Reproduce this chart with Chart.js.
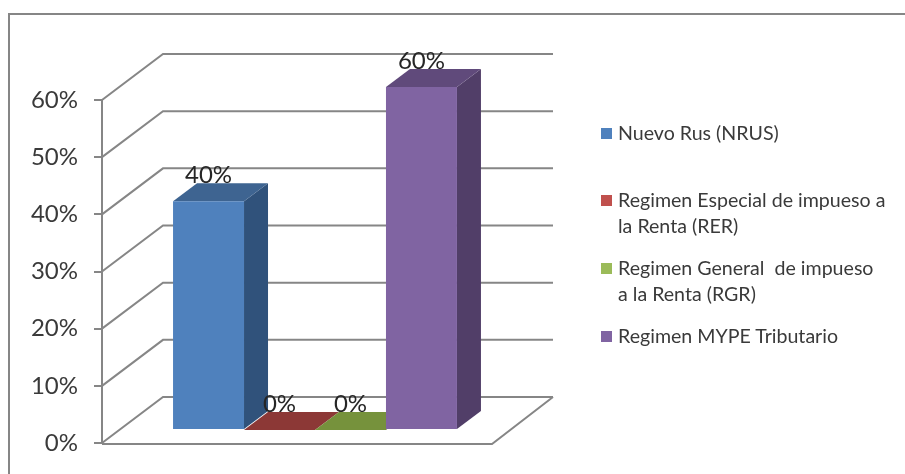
<!DOCTYPE html>
<html>
<head>
<meta charset="utf-8">
<script src="https://cdn.jsdelivr.net/npm/chart.js@4"></script>
<style>
    html, body { margin: 0; padding: 0; background: #fff; }
    #wrap { position: relative; width: 905px; height: 474px; overflow: hidden; }
    #frame { position: absolute; left: 8px; top: 13px; width: 1000px; height: 1000px; border: 2px solid #868686; }
    #chart { position: absolute; left: 0; top: 0; }
    .legend-item { position: absolute; left: 618px; width: 285px; font: 19.6px/26px Lato, sans-serif; color: #3a3a3a; white-space: pre-wrap; }
    .legend-item i { position: absolute; left: -17px; top: 8px; width: 11px; height: 11px; }
</style>
</head>
<body>
<div id="wrap">
    <div id="frame"></div>
    <canvas id="chart" width="905" height="474"></canvas>
    <div id="legend"></div>
</div>
<script>
const categories = [''];
const seriesNames = ['Nuevo Rus (NRUS)', 'Regimen Especial de impueso a\nla Renta (RER)', 'Regimen General  de impueso\na la Renta (RGR)', 'Regimen MYPE Tributario'];
const seriesValues = [40, 0, 0, 60];
const yTicks = [0, 10, 20, 30, 40, 50, 60];

const frontColors = ['#4f81bd', '#c0504d', '#9bbb59', '#8064a2'];
const topColors = ['#3e6491', '#8c3836', '#76923c', '#604a7b'];
const sideColors = ['#30527b', '#772c2a', '#5f7530', '#513e68'];
const legendTops = [120, 187, 255, 323];

// depth of the whole box, and how far into it the bars stand
const wallX = 61, wallY = -46;
const barX = 18, barY = -13;
const barDepthX = 24, barDepthY = -18;
const gridColor = '#868686';

const poly = (ctx, pts, fill) => {
    ctx.beginPath();
    pts.forEach((p, i) => i ? ctx.lineTo(p[0], p[1]) : ctx.moveTo(p[0], p[1]));
    ctx.closePath();
    ctx.fillStyle = fill;
    ctx.fill();
};

const box3d = {
    id: 'box3d',
    beforeDatasetsDraw(chart) {
        const { ctx, chartArea, scales: { y } } = chart;
        ctx.save();
        ctx.strokeStyle = gridColor;
        ctx.lineWidth = 2;
        yTicks.forEach(t => {
            const py = y.getPixelForValue(t);
            ctx.beginPath();
            ctx.moveTo(chartArea.left, py);
            ctx.lineTo(chartArea.left + wallX, py + wallY);
            ctx.lineTo(chartArea.right + wallX, py + wallY);
            ctx.stroke();
        });
        // floor
        const y0 = y.getPixelForValue(0);
        ctx.beginPath();
        ctx.moveTo(chartArea.left, y0 + 1);
        ctx.lineTo(chartArea.right, y0 + 1);
        ctx.lineTo(chartArea.right + wallX, y0 + wallY);
        ctx.stroke();

        // sides and tops of the bars, the fronts come from the library
        chart.data.datasets.forEach((ds, i) => {
            const bar = chart.getDatasetMeta(i).data[0];
            const l = bar.x - bar.width / 2 + barX;
            const r = bar.x + bar.width / 2 + barX;
            const t = bar.y + barY;
            const b = bar.base + barY;
            poly(ctx, [[r, t], [r + barDepthX, t + barDepthY], [r + barDepthX, b + barDepthY], [r, b]], sideColors[i]);
            poly(ctx, [[l, t], [r, t], [r + barDepthX, t + barDepthY], [l + barDepthX, t + barDepthY]], topColors[i]);
        });
        ctx.restore();
    },
    beforeDatasetDraw(chart) {
        chart.ctx.save();
        chart.ctx.translate(barX, barY);
    },
    afterDatasetDraw(chart) {
        chart.ctx.restore();
    },
    afterDatasetsDraw(chart) {
        const { ctx } = chart;
        ctx.save();
        ctx.font = '24px Lato, sans-serif';
        ctx.fillStyle = '#262626';
        ctx.textAlign = 'center';
        ctx.textBaseline = 'middle';
        chart.data.datasets.forEach((ds, i) => {
            const bar = chart.getDatasetMeta(i).data[0];
            ctx.fillText(ds.data[0] + '%', bar.x + barX, bar.y + barY - 26);
        });
        ctx.restore();
    }
};

new Chart(document.getElementById('chart'), {
    type: 'bar',
    data: {
        labels: categories,
        datasets: seriesNames.map((name, i) => ({
            label: name,
            data: [seriesValues[i]],
            backgroundColor: frontColors[i],
            categoryPercentage: 0.728,
            barPercentage: 1,
            clip: false
        }))
    },
    options: {
        responsive: false,
        animation: false,
        layout: { padding: { top: 100, right: 413, bottom: 31, left: 0 } },
        plugins: { legend: { display: false }, tooltip: { enabled: false } },
        scales: {
            x: { display: false },
            y: {
                min: 0,
                max: 60,
                afterFit(scale) { scale.width = 102; },
                afterBuildTicks(scale) { scale.ticks = yTicks.map(v => ({ value: v })); },
                border: { color: gridColor, width: 2 },
                grid: { drawOnChartArea: false, color: gridColor, lineWidth: 2, tickLength: 8 },
                ticks: {
                    padding: 16,
                    color: '#3a3a3a',
                    font: { family: 'Lato, sans-serif', size: 24 },
                    callback: v => v + '%'
                }
            }
        }
    },
    plugins: [box3d]
});

const legend = document.getElementById('legend');
seriesNames.forEach((name, i) => {
    const item = document.createElement('div');
    item.className = 'legend-item';
    item.style.top = legendTops[i] + 'px';
    item.textContent = name;
    const swatch = document.createElement('i');
    swatch.style.background = frontColors[i];
    item.appendChild(swatch);
    legend.appendChild(item);
});
</script>
</body>
</html>
